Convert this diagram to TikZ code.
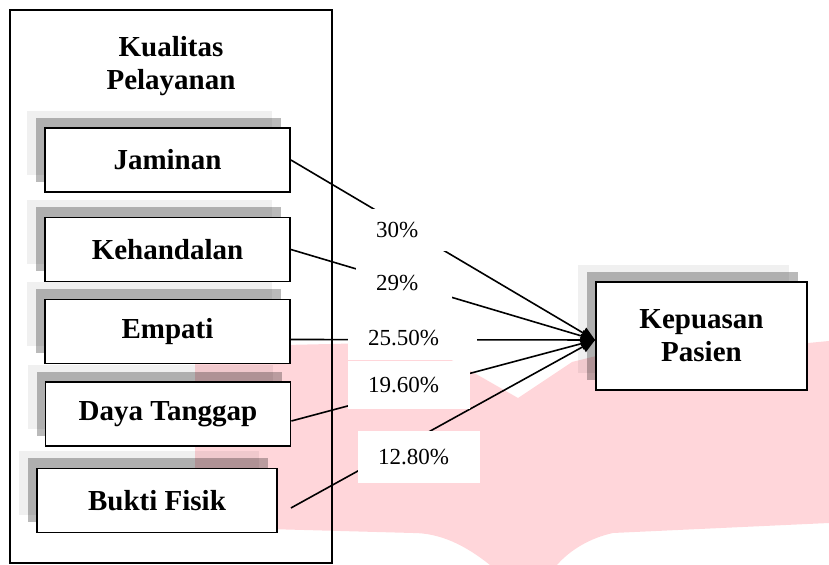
\documentclass[tikz,border=0pt]{standalone}
\usepackage{fontspec}
\setmainfont{Liberation Serif}
\usetikzlibrary{arrows.meta,shadows}
\definecolor{wmpink}{RGB}{255,214,218}

\begin{document}
\begin{tikzpicture}[
  x=0.5pt,
  y=-0.5pt,
  dimensi/.style={draw, line width=0.9pt, fill=white, align=center,
    minimum width=122.5pt, minimum height=32pt,
    font=\bfseries\fontsize{14.5}{16.5}\selectfont,
    general shadow={fill=black, opacity=0.06, shadow xshift=-9pt, shadow yshift=8.5pt},
    general shadow={fill=black, opacity=0.27, shadow xshift=-4.5pt, shadow yshift=5pt}},
  persen/.style={fill=white, inner xsep=10pt, inner ysep=0pt, align=left,
    text width=#1, font=\fontsize{11.5}{13}\selectfont},
  pengaruh/.style={line width=0.8pt, -{Triangle[length=7pt,width=6pt]}}
]
\useasboundingbox (0,0) rectangle (829,565);

% watermark behind
\fill[wmpink] (195,347) -- (420,342) -- (518,398) -- (572,362)
  .. controls (640,345) .. (808,343) -- (829,341) -- (829,523) -- (613,533)
  .. controls (590,538) and (570,550) .. (557,565) -- (490,565)
  .. controls (465,545) and (440,533) .. (413,533) -- (195,527) -- cycle;

% variabel X
\draw[line width=1pt] (10,10) rectangle (332,563);
\node[align=center, font=\bfseries\fontsize{14.5}{16.5}\selectfont] (judul) at (171,66) {Kualitas\\Pelayanan};

\node[dimensi] (jaminan) at (167.5,160) {Jaminan};
\node[dimensi] (kehandalan) at (167.5,249.5) {Kehandalan};
\node[dimensi] (empati) at (167.5,331.5) {Empati};
\node[dimensi] (daya) at (168,414) {Daya Tanggap};
\node[dimensi, minimum width=120pt] (bukti) at (157,500.5) {Bukti Fisik};

% variabel Y
\node[dimensi, minimum width=105.5pt, minimum height=54pt] (kepuasan) at (701.5,336) {Kepuasan\\Pasien};
\coordinate (tip) at ([shift={(0,4)}]kepuasan.west);

\draw[pengaruh] (jaminan.east) -- (tip);
\draw[pengaruh] (kehandalan.east) -- (tip);
\draw[pengaruh] ([shift={(0,8)}]empati.east) -- (tip);
\draw[pengaruh] ([shift={(0,7)}]daya.east) -- (tip);
\draw[pengaruh] ([shift={(13,7.5)}]bukti.east) -- (tip);

% nilai pengaruh
\node[persen=37pt, minimum height=21pt] (p30) at (413,230) {30\%};
\node[persen=28pt, minimum height=20pt] (p29) at (404,283) {29\%};
\node[persen=44.5pt, minimum height=22pt] (p25) at (412.5,338) {25.50\%};
\node[persen=41pt, minimum height=24pt] (p19) at (409,385) {19.60\%};
\node[persen=41pt, minimum height=26pt] (p12) at (419,457) {12.80\%};
\end{tikzpicture}
\end{document}
